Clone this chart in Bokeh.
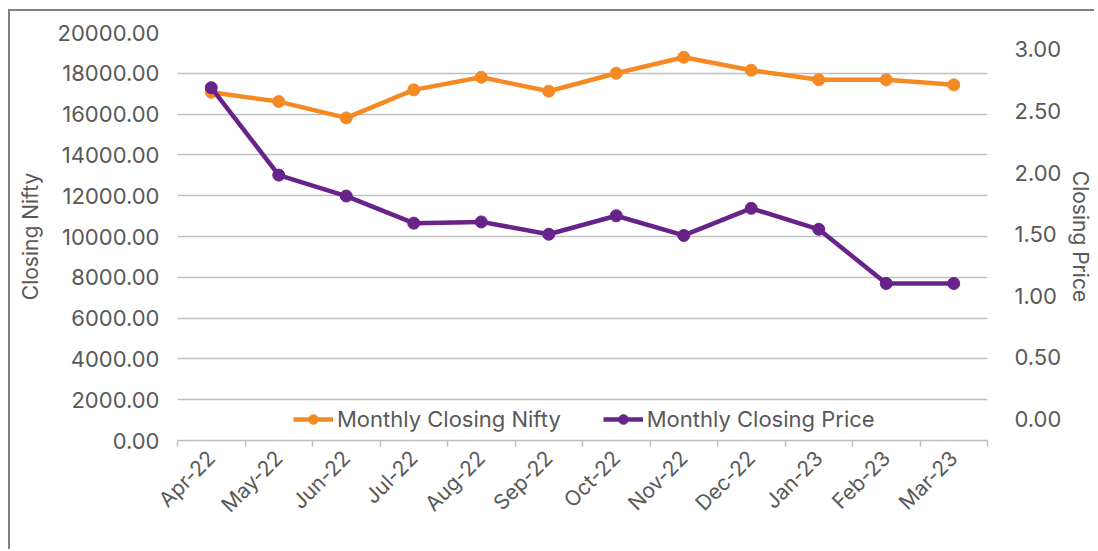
import math
from bokeh.plotting import figure
from bokeh.models import (Range1d, LinearAxis, FixedTicker,
                          NumeralTickFormatter, Legend, LegendItem, ColumnDataSource, Grid)
from bokeh.embed import file_html
from bokeh.resources import INLINE

months = ["Apr-22", "May-22", "Jun-22", "Jul-22", "Aug-22", "Sep-22",
          "Oct-22", "Nov-22", "Dec-22", "Jan-23", "Feb-23", "Mar-23"]
nifty = [17070, 16613, 15813, 17188, 17806, 17119, 18002, 18788, 18150, 17679, 17679, 17433]
price = [2.69, 1.98, 1.81, 1.59, 1.60, 1.50, 1.65, 1.49, 1.71, 1.54, 1.10, 1.10]
left_ticks = [0, 2000, 4000, 6000, 8000, 10000, 12000, 14000, 16000, 18000, 20000]
right_ticks = [0.0, 0.5, 1.0, 1.5, 2.0, 2.5, 3.0]

ORANGE = "#F58A24"
PURPLE = "#67238A"
TEXT = "#595959"
GRID = "#BFBFBF"
FONT = "Inter"
FS = "21px"
FS_TICK = "22px"

n = len(months)
idx = list(range(n))
src = ColumnDataSource(dict(x=idx, nifty=nifty, price=price))

p = figure(width=1086, height=540, x_range=Range1d(-0.5, n - 0.5),
           y_range=Range1d(0, 20000), x_axis_type=None, y_axis_type=None,
           output_backend="svg", toolbar_location=None,
           min_border_left=167, min_border_right=98, min_border_top=21, min_border_bottom=111)
p.outline_line_color = None
p.styles = {"margin-left": "8px", "margin-top": "9px",
            "border-left": "2px solid #7F7F7F", "border-top": "2px solid #7F7F7F"}

p.extra_y_ranges = {"price": Range1d(-0.175, 3.138)}

# left axis
ly = LinearAxis(ticker=FixedTicker(ticks=left_ticks), formatter=NumeralTickFormatter(format="0.00"),
                axis_label="Closing Nifty")
ly.axis_line_color = None
ly.major_tick_line_color = None
ly.minor_tick_line_color = None
ly.major_label_standoff = 12
ly.axis_label_standoff = 12
p.add_layout(ly, "left")

# right axis
ry = LinearAxis(y_range_name="price", ticker=FixedTicker(ticks=right_ticks),
                formatter=NumeralTickFormatter(format="0.00"), axis_label="Closing Price")
ry.axis_line_color = None
ry.major_tick_line_color = None
ry.minor_tick_line_color = None
ry.major_label_standoff = 21
ry.axis_label_standoff = 4
p.add_layout(ry, "right")

for ax in (ly, ry):
    ax.major_label_text_font = FONT
    ax.major_label_text_font_size = FS_TICK
    ax.major_label_text_color = TEXT
    ax.axis_label_text_font = FONT
    ax.axis_label_text_font_size = FS
    ax.axis_label_text_font_style = "normal"
    ax.axis_label_text_color = TEXT

# bottom: labels at category centres, tick marks at category boundaries
cx = LinearAxis(ticker=FixedTicker(ticks=idx, minor_ticks=[i - 0.5 for i in range(n + 1)]),
                major_label_overrides={i: m for i, m in zip(idx, months)})
cx.axis_line_color = GRID
cx.axis_line_width = 1.5
cx.major_tick_line_color = None
cx.minor_tick_line_color = GRID
cx.minor_tick_line_width = 1.5
cx.minor_tick_out = 6
cx.minor_tick_in = 0
cx.major_label_orientation = math.pi / 4
cx.major_label_standoff = 8
cx.major_label_text_font = FONT
cx.major_label_text_font_size = FS
cx.major_label_text_color = TEXT
p.add_layout(cx, "below")

g = Grid(dimension=1, ticker=ly.ticker, grid_line_color=GRID, grid_line_width=1.5)
p.add_layout(g)

l1 = p.line("x", "nifty", source=src, color=ORANGE, line_width=4.5)
c1 = p.scatter("x", "nifty", source=src, color=ORANGE, size=12)
l2 = p.line("x", "price", source=src, color=PURPLE, line_width=4.5, y_range_name="price")
c2 = p.scatter("x", "price", source=src, color=PURPLE, size=12, y_range_name="price")

legend = Legend(items=[LegendItem(label="Monthly Closing Nifty", renderers=[l1, c1]),
                       LegendItem(label="Monthly Closing Price", renderers=[l2, c2])],
                orientation="horizontal", location=(116, 8))
legend.border_line_color = None
legend.background_fill_alpha = 0
legend.padding = 0
legend.margin = 0
legend.spacing = 42
legend.glyph_width = 40
legend.glyph_height = 24
legend.label_height = 24
legend.label_standoff = 4
legend.label_text_font = FONT
legend.label_text_font_size = FS_TICK
legend.label_text_color = TEXT
p.add_layout(legend, "center")

open("out.html", "w").write(file_html(p, INLINE))
